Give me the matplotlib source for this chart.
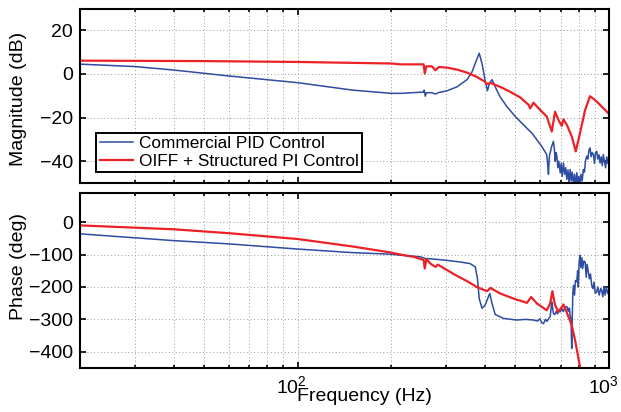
import matplotlib
matplotlib.use("Agg")
import matplotlib.pyplot as plt
from matplotlib.ticker import LogLocator, NullFormatter
from matplotlib.transforms import ScaledTranslation

plt.rcParams["font.family"] = ["Liberation Sans", "DejaVu Sans"]
plt.rcParams["mathtext.fontset"] = "custom"
plt.rcParams["mathtext.rm"] = "Liberation Sans"

# ── Data ─────────────────────────────────────────────────────────────────────
# magnitude, commercial PID (Hz, dB)
pid_mag_f = [20, 30, 40, 60, 100, 150, 200, 214, 254, 255, 257, 259, 270, 277,
             284, 302, 325, 350, 363, 375, 383, 391, 400, 407, 413, 421, 431,
             447, 470, 500, 531, 565, 586, 608, 631, 635, 639, 643, 647, 655,
             663, 668, 672, 676, 680, 685, 690, 697, 702, 707, 714, 720, 726,
             732, 738, 744, 750, 756, 762, 769, 775, 781, 788, 794, 800, 807,
             813, 820, 827, 834, 840, 848, 855, 862, 869, 876, 883, 891, 898,
             905, 913, 920, 928, 936, 944, 951, 959, 966, 975, 983, 991, 1000]
pid_mag = [4.5, 3.4, 1.8, -0.9, -4.0, -7.4, -8.9, -8.9, -8.3, -7.4, -10.2, -8.6,
           -8.6, -9.2, -8.5, -7.7, -5.9, -2.6, 0.9, 6.2, 9.5, 4.7, -2.9, -7.7,
           -4.4, -2.6, -5.9, -10.5, -15.0, -19.5, -23.3, -27.1, -30.1, -33.2,
           -37.0, -41, -46, -38, -36.2, -33, -30.9, -35, -40, -36, -37.7, -43,
           -40, -45.3, -41, -47, -40.8, -46, -43, -48.3, -44, -50, -43.8, -49,
           -45, -51, -46, -52, -45.3, -50, -47, -51, -46, -49, -43.8, -45, -40,
           -37.7, -39, -35, -33.9, -38, -36, -37.0, -41, -36, -35.5, -39, -37,
           -40.8, -38, -42, -37.0, -40, -43.0, -38, -41, -37.7]

# magnitude, OIFF + structured PI (Hz, dB)
oiff_mag_f = [20, 50, 100, 200, 214, 254, 256, 259, 270, 277, 284, 302, 325,
              350, 377, 400, 404, 416, 447, 482, 519, 552, 558, 572, 601, 631,
              655, 671, 688, 705, 714, 732, 759, 782, 807, 838, 869, 902, 936,
              971, 1000]
oiff_mag = [6.1, 5.9, 5.5, 4.8, 4.4, 4.4, 0.2, 3.5, 3.5, 1.7, 3.2, 2.9, 2.0,
            0.6, -1.4, -3.6, -4.7, -4.1, -5.9, -8.2, -10.8, -14.2, -15.8,
            -13.2, -16.5, -19.5, -26.4, -17.3, -21.1, -23.8, -20.8, -23.3,
            -28.6, -35.5, -27.1, -16.5, -10.2, -12.0, -14.2, -16.5, -18.3]

# phase, commercial PID (Hz, deg)
pid_ph_f = [20, 40, 60, 100, 150, 200, 214, 248, 256, 274, 302, 333, 358, 372,
            378, 383, 391, 400, 414, 421, 431, 458, 506, 540, 572, 590, 600,
            608, 616, 625, 632, 640, 647, 651, 655, 659, 663, 670, 677, 684,
            690, 697, 705, 713, 722, 732, 740, 746, 750, 755, 759, 762, 765,
            769, 775, 780, 788, 793, 797, 802, 807, 812, 818, 823, 830, 838,
            845, 850, 858, 865, 872, 880, 888, 895, 903, 913, 920, 930, 940,
            947, 955, 963, 971, 980, 990, 1000]
pid_ph = [-36, -57, -67, -83, -94, -99, -102, -107, -112, -114, -118, -123,
          -128, -138, -174, -236, -266, -256, -220, -251, -285, -297, -302,
          -300, -302, -305, -298, -310, -313, -300, -306, -298, -292, -270,
          -246, -265, -282, -285, -275, -283, -272, -277, -266, -276, -262,
          -261, -275, -265, -287, -300, -390, -300, -220, -195, -225, -180,
          -184, -150, -200, -120, -102, -140, -110, -143, -120, -123, -170,
          -130, -153, -175, -160, -195, -205, -185, -220, -215, -200, -225,
          -205, -210, -230, -200, -225, -200, -220, -210]

# phase, OIFF + structured PI (Hz, deg)
oiff_ph_f = [20, 40, 60, 100, 150, 200, 214, 236, 254, 256, 259, 267, 277, 282,
             302, 325, 350, 376, 406, 416, 447, 494, 545, 562, 587, 631, 647,
             658, 671, 688, 714, 732, 759, 778, 798, 811, 830]
oiff_ph = [-10, -22, -34, -52, -75, -94, -100, -107, -117, -143, -114, -128,
           -138, -131, -148, -166, -182, -200, -213, -203, -220, -236, -249,
           -231, -251, -272, -251, -213, -256, -277, -254, -279, -318, -364,
           -421, -457, -520]

labels = ["Commercial PID Control", "OIFF + Structured PI Control"]

# ── Style ────────────────────────────────────────────────────────────────────
BLUE = "#2d4ca2"
RED = "#ec2127"
GRID = dict(color="#9a9a9a", linestyle=(0, (1, 2.5)), linewidth=0.7)

fig = plt.figure(figsize=(6.21, 4.12), dpi=100)
ax1 = fig.add_axes([0.1288, 0.5558, 0.8519, 0.4235])
ax2 = fig.add_axes([0.1288, 0.1068, 0.8519, 0.4248])


def style(ax):
    ax.set_xscale("log")
    ax.set_xlim(20, 1000)
    ax.xaxis.set_major_locator(LogLocator(base=10))
    ax.xaxis.set_minor_locator(LogLocator(base=10, subs=range(2, 10)))
    ax.xaxis.set_minor_formatter(NullFormatter())
    ax.grid(True, which="major", **GRID)
    ax.grid(True, which="minor", axis="x", **GRID)
    ax.tick_params(which="both", direction="in", top=True, right=True,
                   labelsize=14, width=1.2)
    ax.tick_params(which="major", length=4.5, pad=5)
    ax.tick_params(which="minor", length=2.5)
    for s in ax.spines.values():
        s.set_linewidth(1.5)
    ax.set_axisbelow(True)


# ── Magnitude ────────────────────────────────────────────────────────────────
ax1.plot(pid_mag_f, pid_mag, color=BLUE, lw=1.1, label=labels[0])
ax1.plot(oiff_mag_f, oiff_mag, color=RED, lw=1.6, label=labels[1])
style(ax1)
ax1.set_ylim(-50, 30)
ax1.set_yticks([-40, -20, 0, 20])
ax1.tick_params(axis="x", labelbottom=False)
ax1.set_ylabel("Magnitude (dB)", fontsize=14)
ax1.yaxis.set_label_coords(-0.10, 0.48)

leg = ax1.legend(loc="upper left", bbox_to_anchor=(0.031, 0.287),
                 borderaxespad=0, fontsize=12.4, handlelength=1.95,
                 handletextpad=0.3, borderpad=0.2, labelspacing=0.12,
                 fancybox=False, framealpha=1, edgecolor="black")
leg.get_frame().set_linewidth(1.4)

# ── Phase ────────────────────────────────────────────────────────────────────
ax2.plot(pid_ph_f, pid_ph, color=BLUE, lw=1.1)
ax2.plot(oiff_ph_f, oiff_ph, color=RED, lw=1.6)
style(ax2)
ax2.set_ylim(-450, 90)
ax2.set_yticks([-400, -300, -200, -100, 0])
ax2.set_ylabel("Phase (deg)", fontsize=14)
ax2.yaxis.set_label_coords(-0.10, 0.58)
ax2.set_xlabel("Frequency (Hz)", fontsize=14)
ax2.xaxis.set_label_coords(0.537, -0.115)

# nudge the decade labels left a little, as in the original export
shift = ScaledTranslation(-6 / 100, 0, fig.dpi_scale_trans)
for lab in ax2.xaxis.get_majorticklabels():
    lab.set_transform(lab.get_transform() + shift)

fig.savefig("out.png", dpi=100)
